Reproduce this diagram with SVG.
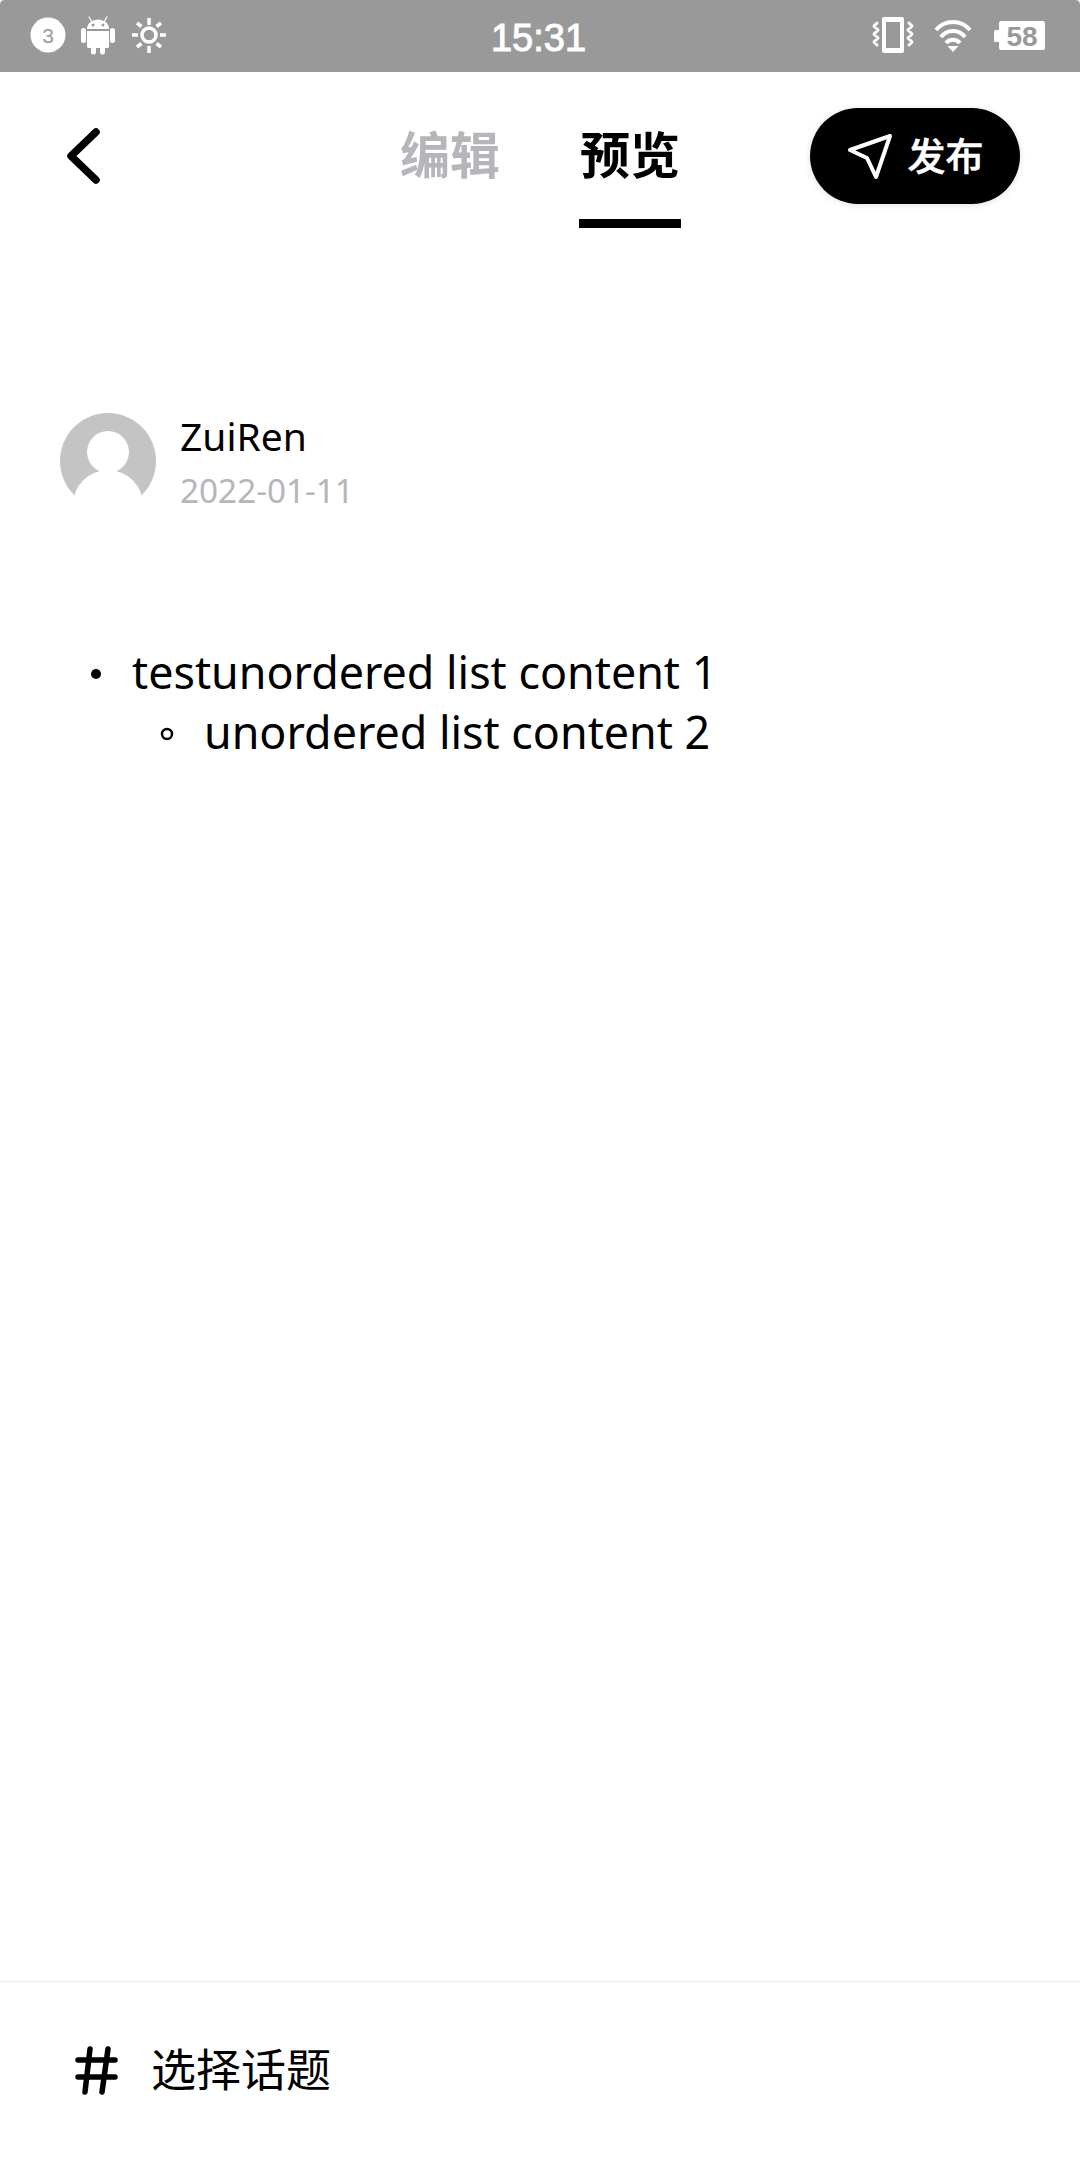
<svg xmlns="http://www.w3.org/2000/svg" width="1080" height="2160" viewBox="0 0 1080 2160">
<style>
.cjk{font-family:"Noto Sans CJK SC","Noto Sans",sans-serif}
.latin{font-family:"Noto Sans","Open Sans",sans-serif}
.sans{font-family:"Liberation Sans",Arial,sans-serif}
.ln{fill:none;stroke:#fff;stroke-linecap:round;stroke-linejoin:round}
.bt{fill:none;stroke:#fff;stroke-linecap:butt}
</style>
<defs>
<filter id="sh" x="-10%" y="-20%" width="120%" height="140%"><feDropShadow dx="0" dy="1" stdDeviation="3" flood-color="#000" flood-opacity="0.12"/></filter>
</defs>
<rect width="1080" height="2160" fill="#fff"/>
<g id="status-bar">
<path d="M5 0H1075Q1080 0 1080 5V72H0V5Q0 0 5 0Z" fill="#999"/>
<circle cx="48" cy="35" r="17.5" fill="#fff"/>
<text x="48" y="43" text-anchor="middle" class="sans" font-size="21" fill="#999">3</text>
<g fill="#fff">
<path d="M87 29a11 9.500 0 0 1 22 0Z"/>
<path d="M87 31H109V47Q109 48 107 48H105V52a2.500 2.500 0 0 1-5 0V48H96V52a2.500 2.500 0 0 1-5 0V48H89Q87 48 87 47Z"/>
<rect x="81" y="28" width="5" height="15" rx="2.500"/>
<rect x="110" y="28" width="5" height="15" rx="2.500"/>
<circle cx="93" cy="25" r="1.500" fill="#999"/>
<circle cx="103" cy="25" r="1.500" fill="#999"/>
</g>
<path class="ln" stroke-width="1.300" d="M89 17l3 5M107 17l-3 5"/>
<circle cx="149" cy="35" r="7" fill="none" stroke="#fff" stroke-width="3.500"/>
<path class="bt" stroke-width="3.500" d="M149 18v7M149 46v7M132 35h6M160 35h6M137 23l4.500 3.500M161 23l-4.500 3.500M137 47l4.500-3.500M161 47l-4.500-3.500"/>
<text x="538.500" y="51" text-anchor="middle" class="sans" font-size="38" fill="#fff" stroke="#fff" stroke-width="1">15:31</text>
<rect x="882" y="17" width="22" height="36" rx="2" fill="#fff"/>
<rect x="886" y="22" width="14" height="26" fill="#999"/>
<path class="ln" stroke-width="3" d="M877 23l-3 3 4 4-4 4 4 4-4 4 3 3M909 23l3 3-4 4 4 4-4 4 4 4-3 3"/>
<path class="bt" stroke-width="4" d="M936 30A22 22 0 0 1 970 30M941 37A15 15 0 0 1 965 37M946 43A9 9 0 0 1 960 43"/>
<path d="M947.500 46h11l-5.500 6Z" fill="#fff"/>
<rect x="999" y="21" width="46" height="29" rx="2" fill="#fff"/>
<rect x="994" y="30" width="6" height="12" rx="1.500" fill="#fff"/>
<text x="1022" y="46" text-anchor="middle" class="sans" font-size="28" font-weight="700" fill="#999">58</text>
</g>
<g id="back"><path d="M96 132L71 156L96 180" fill="none" stroke="#000" stroke-width="7.500" stroke-linecap="round" stroke-linejoin="round"/></g>
<g id="tab-edit"><text x="450" y="174" text-anchor="middle" class="cjk" font-size="50" font-weight="700" fill="#b5b5ba">编辑</text></g>
<g id="tab-preview"><text x="630" y="174" text-anchor="middle" class="cjk" font-size="50" font-weight="700" fill="#000">预览</text>
<rect x="579" y="219" width="102" height="9" fill="#000"/></g>
<g id="publish">
<rect x="810" y="108" width="210" height="96" rx="48" fill="#000" filter="url(#sh)"/>
<path class="ln" stroke-width="4" d="M890 136L850 150L867 158L876 177Z"/>
<text x="945.500" y="170" text-anchor="middle" class="cjk" font-size="38" font-weight="500" fill="#fff" stroke="#fff" stroke-width="0.500">发布</text>
</g>
<g id="avatar">
<circle cx="108" cy="461" r="48" fill="#c4c4c4"/>
<circle cx="108" cy="452" r="21" fill="#fff"/>
<circle cx="108" cy="505" r="35" fill="#fff"/>
</g>
<g id="author">
<text x="180" y="451" class="latin" font-size="39" fill="#000">ZuiRen</text>
<text x="180" y="503" class="latin" font-size="33.300" fill="#b5b5ba">2022-01-11</text>
</g>
<g id="list">
<circle cx="96" cy="674" r="5" fill="#000"/>
<text x="132" y="689" class="latin" font-size="44.800" fill="#000">testunordered list content 1</text>
<circle cx="167" cy="734" r="5" fill="none" stroke="#000" stroke-width="2.500"/>
<text x="204" y="749" class="latin" font-size="44.800" fill="#000">unordered list content 2</text>
</g>
<g id="topic">
<rect x="0" y="1980" width="1080" height="3" fill="#f5f5f5"/>
<path d="M78 2060H115M78 2077H115M90 2049L85 2092M108 2049L102 2092" fill="none" stroke="#000" stroke-width="5.500" stroke-linecap="round"/>
<text x="151" y="2087" class="cjk" font-size="45" fill="#000">选择话题</text>
</g>
</svg>
